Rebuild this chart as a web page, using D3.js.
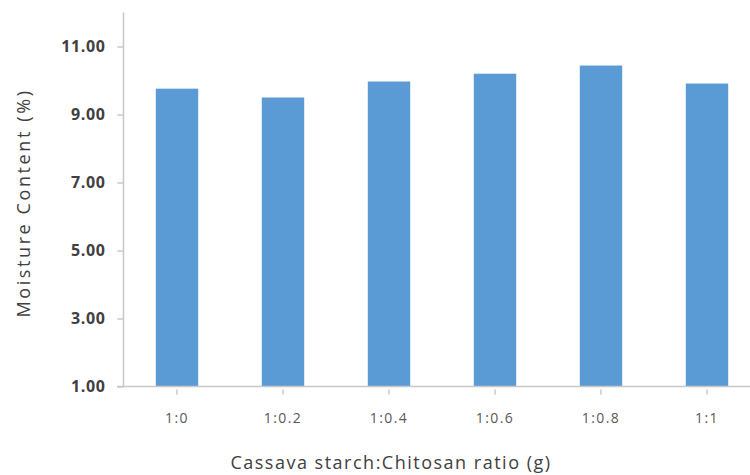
<!DOCTYPE html>
<html>
<head>
<meta charset="utf-8">
<script src="https://cdn.jsdelivr.net/npm/d3@7"></script>
<style>
  html, body { margin: 0; padding: 0; background: #ffffff; }
  svg { display: block; }
</style>
</head>
<body>
<svg id="chart" width="750" height="475"></svg>
<script>
// Moisture content of cassava starch / chitosan films
const ratios = ["1:0", "1:0.2", "1:0.4", "1:0.6", "1:0.8", "1:1"];
const moisture = [9.76, 9.50, 9.97, 10.20, 10.44, 9.91];
const yTicks = [1, 3, 5, 7, 9, 11];

const svg = d3.select("#chart");
const font = "'Open Sans', sans-serif";

const x = d3.scaleBand()
  .domain(ratios)
  .range([124, 760])
  .paddingInner(0.6)
  .paddingOuter(0.3);

const y = d3.scaleLinear()
  .domain([1, 12])
  .range([386.5, 12.5]);

// Bars
svg.append("g")
  .selectAll("rect")
  .data(ratios)
  .join("rect")
  .attr("x", d => x(d))
  .attr("width", x.bandwidth())
  .attr("y", (d, i) => y(moisture[i]))
  .attr("height", (d, i) => y(1) - y(moisture[i]))
  .attr("fill", "#5b9bd5");

// Y axis
const yAxis = svg.append("g")
  .attr("transform", "translate(123.5,0)")
  .call(d3.axisLeft(y).tickValues(yTicks).tickSize(6).tickPadding(12)
    .tickFormat(d3.format(".2f")));
yAxis.select(".domain")
  .attr("d", `M0,${y(12)}V${y(1)}`)
  .attr("stroke", "#c8c8c8").attr("stroke-width", 1.5);
yAxis.selectAll(".tick line").attr("stroke", "#c8c8c8").attr("stroke-width", 1.5);
yAxis.selectAll(".tick text")
  .attr("font-family", font)
  .attr("font-size", 16)
  .attr("font-weight", "bold")
  .attr("letter-spacing", 0.6)
  .attr("fill", "#404040");

// X axis
const xAxis = svg.append("g")
  .attr("transform", `translate(0,${y(1)})`)
  .call(d3.axisBottom(x).tickSize(0).tickPadding(27));
xAxis.select(".domain")
  .attr("d", "M117,0H750")
  .attr("stroke", "#c8c8c8").attr("stroke-width", 1.5);
xAxis.selectAll(".tick")
  .append("line")
  .attr("y1", 3).attr("y2", 8)
  .attr("stroke", "#c8c8c8").attr("stroke-width", 1.5);
xAxis.selectAll(".tick text")
  .attr("font-family", font)
  .attr("font-size", 14)
  .attr("letter-spacing", 1.4)
  .attr("fill", "#595959");

// Axis titles
svg.append("text")
  .attr("x", 391)
  .attr("y", 469)
  .attr("text-anchor", "middle")
  .attr("font-family", font)
  .attr("font-size", 18)
  .attr("letter-spacing", 1.5)
  .attr("fill", "#404040")
  .text("Cassava starch:Chitosan ratio (g)");

svg.append("text")
  .attr("transform", "translate(30,203) rotate(-90)")
  .attr("text-anchor", "middle")
  .attr("font-family", font)
  .attr("font-size", 18)
  .attr("letter-spacing", 2.6)
  .attr("fill", "#404040")
  .text("Moisture Content (%)");
</script>
</body>
</html>
